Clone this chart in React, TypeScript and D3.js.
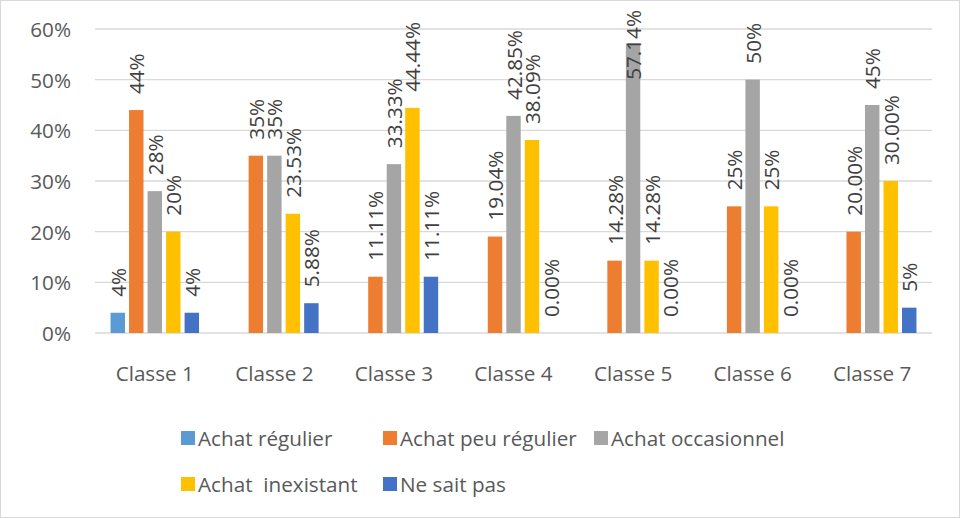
import React from 'react';
import * as d3 from 'd3';

const categories = ['Classe 1', 'Classe 2', 'Classe 3', 'Classe 4', 'Classe 5', 'Classe 6', 'Classe 7'];
const seriesNames = ['Achat régulier', 'Achat peu régulier', 'Achat occasionnel', 'Achat  inexistant', 'Ne sait pas'];
const seriesColors = ['#5B9BD5', '#ED7D31', '#A5A5A5', '#FFC000', '#4472C4'];

const achatRegulier: (number | null)[] = [4, null, null, null, null, null, null];
const achatPeuRegulier: (number | null)[] = [44, 35, 11.11, 19.04, 14.28, 25, 20];
const achatOccasionnel: (number | null)[] = [28, 35, 33.33, 42.85, 57.14, 50, 45];
const achatInexistant: (number | null)[] = [20, 23.53, 44.44, 38.09, 14.28, 25, 30];
const neSaitPas: (number | null)[] = [4, 5.88, 11.11, 0, 0, 0, 5];

const labelsRegulier = ['4%', '', '', '', '', '', ''];
const labelsPeuRegulier = ['44%', '35%', '11.11%', '19.04%', '14.28%', '25%', '20.00%'];
const labelsOccasionnel = ['28%', '35%', '33.33%', '42.85%', '57.14%', '50%', '45%'];
const labelsInexistant = ['20%', '23.53%', '44.44%', '38.09%', '14.28%', '25%', '30.00%'];
const labelsNeSaitPas = ['4%', '5.88%', '11.11%', '0.00%', '0.00%', '0.00%', '5%'];

const yTicks = [0, 10, 20, 30, 40, 50, 60];

const W = 960;
const H = 518;
const FONT = '"Open Sans", sans-serif';
const FS = 20.7;

let ctx: CanvasRenderingContext2D | null = null;
function measure(t: string): number {
  if (!ctx) {
    const c = document.createElement('canvas');
    ctx = c.getContext('2d');
  }
  if (!ctx) return t.length * FS * 0.57;
  ctx.font = `${FS}px "Open Sans"`;
  return ctx.measureText(t).width;
}

export default function App() {
  const values = [achatRegulier, achatPeuRegulier, achatOccasionnel, achatInexistant, neSaitPas];
  const labels = [labelsRegulier, labelsPeuRegulier, labelsOccasionnel, labelsInexistant, labelsNeSaitPas];

  const plotLeft = 95;
  const plotRight = 932;
  const plotTop = 29;
  const plotBottom = 333;

  const x0 = d3.scaleBand<string>().domain(categories).range([plotLeft, plotRight]).paddingInner(0.26).paddingOuter(0.13);
  const x1 = d3.scaleBand<number>().domain(d3.range(seriesNames.length)).range([0, x0.bandwidth()]).paddingInner(0.22);
  const y = d3.scaleLinear().domain([0, 60]).range([plotBottom, plotTop]);

  const legendCols = [181, 383, 594];
  const legendRows = [438, 484];
  const legendPos = [
    [0, 0], [1, 0], [2, 0], [0, 1], [1, 1],
  ];

  return (
    <div style={{ position: 'absolute', left: 0, top: 0 }}>
      <svg width={W} height={H} style={{ display: 'block', background: '#fff' }} fontFamily={FONT}>
        <rect x={0.5} y={0.5} width={W - 1} height={H - 1} fill="#fff" stroke="#D9D9D9" strokeWidth={1} />
        {yTicks.map((t) => (
          <g key={t}>
            <line x1={plotLeft} x2={plotRight} y1={y(t)} y2={y(t)} stroke="#D9D9D9" strokeWidth={1.3} />
            <text x={71} y={y(t)} textAnchor="end" dominantBaseline="central" fontSize={FS} fill="#595959">
              {t + '%'}
            </text>
          </g>
        ))}
        {categories.map((c, ci) => (
          <g key={c}>
            {values.map((vals, si) => {
              const v = vals[ci];
              if (v === null || v === undefined) return null;
              const bx = (x0(c) as number) + (x1(si) as number);
              const bw = x1.bandwidth();
              const top = y(v);
              return (
                <rect key={si} x={bx} y={top} width={bw} height={plotBottom - top} fill={seriesColors[si]} />
              );
            })}
          </g>
        ))}
        {categories.map((c, ci) => (
          <g key={c + 'l'}>
            {values.map((vals, si) => {
              const v = vals[ci];
              const lab = labels[si][ci];
              if (v === null || v === undefined || !lab) return null;
              const cx = (x0(c) as number) + (x1(si) as number) + x1.bandwidth() / 2;
              const len = measure(lab);
              let anchorY = y(v) - 16;
              if (anchorY - len < 10) anchorY = 10 + len;
              return (
                <text
                  key={si}
                  transform={`translate(${cx},${anchorY}) rotate(-90)`}
                  textAnchor="start"
                  dominantBaseline="central"
                  fontSize={FS}
                  fill="#404040"
                >
                  {lab}
                </text>
              );
            })}
          </g>
        ))}
        {categories.map((c) => (
          <text
            key={c + 'x'}
            x={(x0(c) as number) + x0.bandwidth() / 2}
            y={373}
            textAnchor="middle"
            dominantBaseline="central"
            fontSize={FS}
            fill="#595959"
          >
            {c}
          </text>
        ))}
        {seriesNames.map((s, i) => {
          const [col, row] = legendPos[i];
          const lx = legendCols[col];
          const ly = legendRows[row];
          return (
            <g key={s}>
              <rect x={lx} y={ly - 7} width={14} height={14} fill={seriesColors[i]} />
              <text
                x={lx + 17}
                y={ly}
                dominantBaseline="central"
                fontSize={FS}
                fill="#595959"
                style={{ whiteSpace: 'pre' }}
              >
                {s}
              </text>
            </g>
          );
        })}
      </svg>
    </div>
  );
}
